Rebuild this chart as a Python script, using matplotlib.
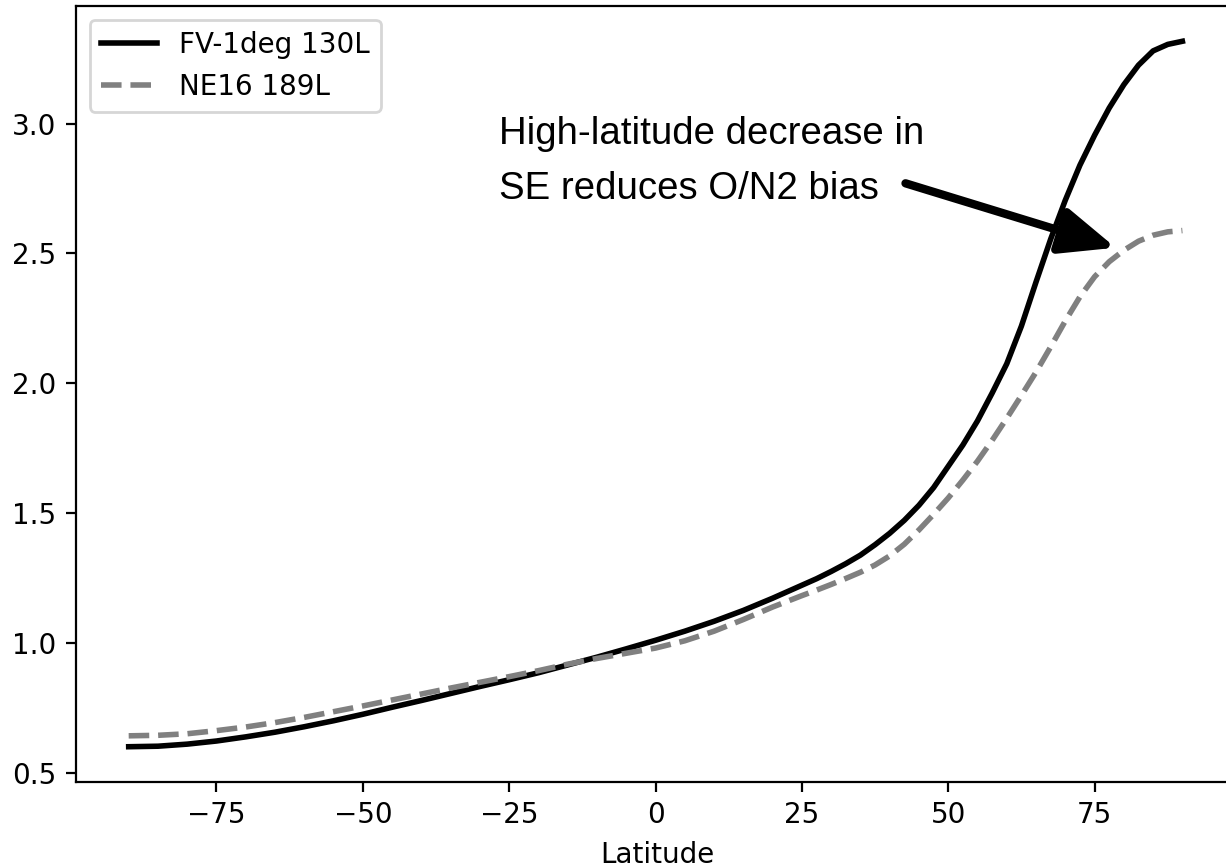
import matplotlib
matplotlib.use('Agg')
import matplotlib.pyplot as plt
import numpy as np

# latitude grid (deg): 5 deg steps in the south, 2.5 deg north of 25N
lat = [-90, -85, -80, -75, -70, -65, -60, -55, -50, -45, -40, -35, -30, -25,
       -20, -15, -10, -5, 0, 5, 10, 15, 20,
       25, 27.5, 30, 32.5, 35, 37.5, 40, 42.5, 45, 47.5, 50, 52.5, 55, 57.5,
       60, 62.5, 65, 67.5, 70, 72.5, 75, 77.5, 80, 82.5, 85, 87.5, 90]

# O/N2 ratio, FV-1deg 130L
fv = [0.600, 0.602, 0.610, 0.622, 0.638, 0.656, 0.677, 0.700, 0.725, 0.752,
      0.778, 0.805, 0.832, 0.858, 0.885, 0.915, 0.945, 0.977, 1.010, 1.045,
      1.083, 1.125, 1.172,
      1.222, 1.247, 1.275, 1.305, 1.338, 1.378, 1.422, 1.472, 1.530, 1.598,
      1.680, 1.762, 1.855, 1.962, 2.075, 2.220, 2.390, 2.555, 2.705, 2.840,
      2.955, 3.060, 3.150, 3.225, 3.280, 3.305, 3.317]

# O/N2 ratio, NE16 189L
ne = [0.642, 0.644, 0.650, 0.662, 0.676, 0.693, 0.713, 0.735, 0.757, 0.780,
      0.803, 0.826, 0.848, 0.870, 0.893, 0.918, 0.940, 0.960, 0.980, 1.008,
      1.045, 1.090, 1.138,
      1.182, 1.203, 1.225, 1.248, 1.272, 1.300, 1.335, 1.380, 1.435, 1.495,
      1.558, 1.627, 1.700, 1.780, 1.865, 1.953, 2.043, 2.140, 2.240, 2.333,
      2.410, 2.468, 2.512, 2.547, 2.570, 2.583, 2.588]

labels = ['FV-1deg 130L', 'NE16 189L']
note = 'High-latitude decrease in\nSE reduces O/N2 bias'

dpi = 200
fig = plt.figure(figsize=(1226/dpi, 868/dpi), dpi=dpi)
# right spine falls just outside the canvas, like the cropped original
ax = fig.add_axes([76/1226, 86/868, 1162/1226, 776/868])

ax.plot(lat, fv, color='k', lw=2, label=labels[0])
ax.plot(lat, ne, color='gray', lw=2, ls='--', label=labels[1])
ax.set_xlim(-99, 99.5)

ax.set_xlabel('Latitude')
ax.legend(loc='upper left')

ax.text(-26.7, 3.028, note, fontsize=13.8, family='Liberation Sans',
        ha='left', va='top', linespacing=1.67)
ax.annotate('', xy=(78.6, 2.522), xytext=(42.7, 2.77),
            arrowprops=dict(arrowstyle='-|>,head_length=0.38,head_width=0.16',
                            mutation_scale=44, lw=3.0, color='k',
                            shrinkA=0, shrinkB=0))

plt.savefig('out.png', dpi=dpi)
